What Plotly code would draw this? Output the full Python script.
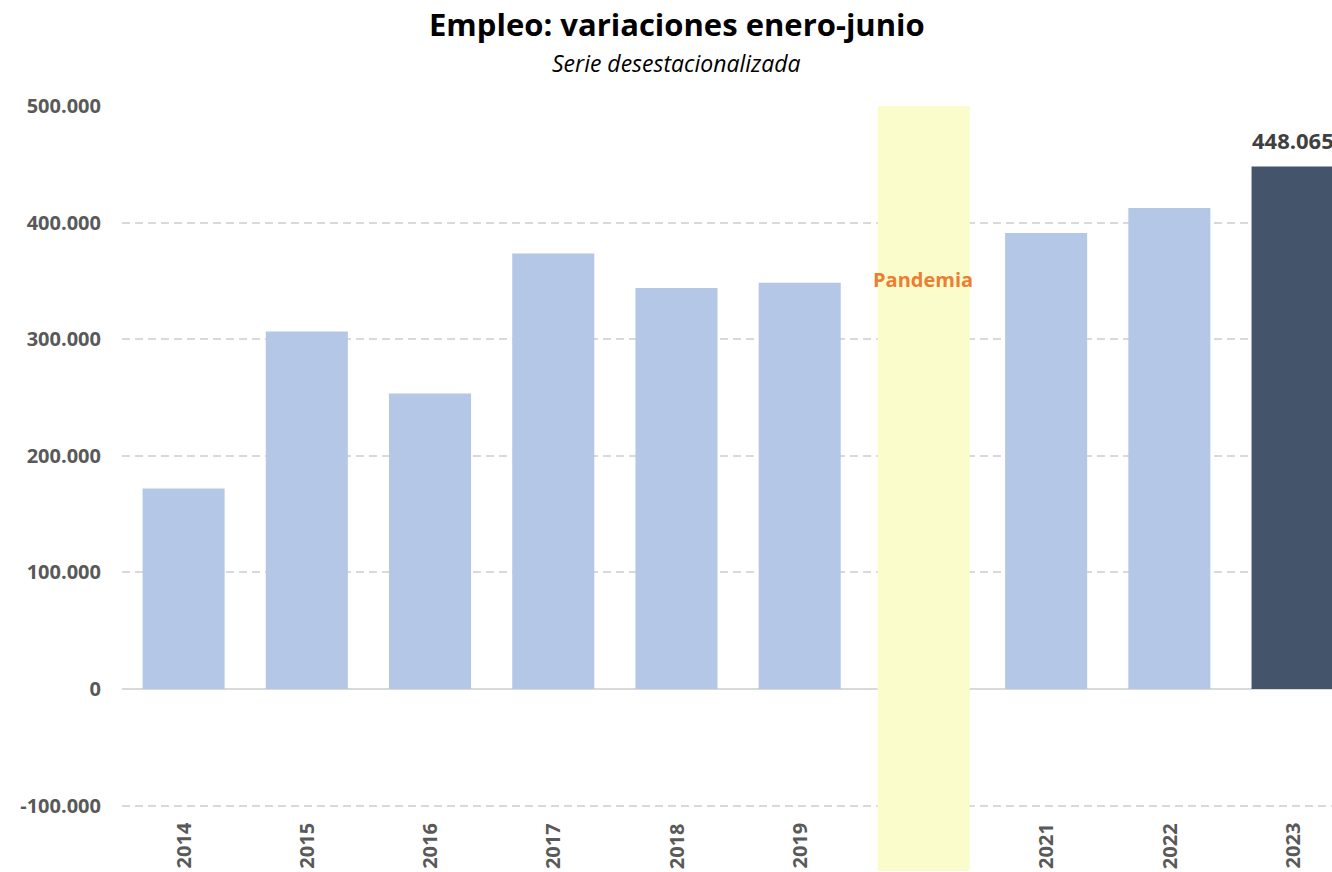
import plotly.graph_objects as go

years = ["2014", "2015", "2016", "2017", "2018", "2019", "2020", "2021", "2022", "2023"]
values = [172000, 306500, 253500, 373500, 344000, 348500, None, 391000, 412500, 448065]
bar_colors = ["#B4C7E7"] * 9 + ["#44546A"]
ytick_vals = [-100000, 0, 100000, 200000, 300000, 400000, 500000]
ytick_text = ["-100.000", "0", "100.000", "200.000", "300.000", "400.000", "500.000"]
highlight_label = "448.065"

FONT = "Open Sans"
GRAY = "#595959"

fig = go.Figure()
fig.add_trace(go.Bar(
    x=years, y=values, marker=dict(color=bar_colors, line=dict(width=0)),
    hoverinfo="skip", showlegend=False,
))

# Pandemic band
fig.add_shape(type="rect", xref="x", yref="y", x0=5.633, x1=6.38, y0=-156000, y1=500000,
              fillcolor="#FBFCCC", line=dict(width=0), layer="above")

annotations = []
for i, yr in enumerate(years):
    if yr == "2020":
        continue
    annotations.append(dict(x=i, y=-134500, xref="x", yref="y", text="<b>%s</b>" % yr, textangle=-90,
                            showarrow=False, font=dict(family=FONT, size=20, color=GRAY),
                            xanchor="center", yanchor="middle"))
annotations.append(dict(x=years.index("2020"), y=351600, xref="x", yref="y", text="<b>Pandemia</b>",
                        showarrow=False, font=dict(family=FONT, size=20, color="#ED7D31"),
                        xanchor="center", yanchor="middle"))
annotations.append(dict(x=len(years) - 1, y=values[-1], xref="x", yref="y",
                        text="<b>%s</b>" % highlight_label, xanchor="center", yanchor="middle",
                        showarrow=False, yshift=27, font=dict(family=FONT, size=22, color="#404040")))
annotations.append(dict(x=0.4585, y=1 + (106 - 24) / 766, xref="paper", yref="paper",
                        xanchor="center", yanchor="middle",
                        text="<b>Empleo: variaciones enero-junio</b>", showarrow=False,
                        font=dict(family=FONT, size=31, color="#000000")))
annotations.append(dict(x=0.4585, y=1 + (106 - 63) / 766, xref="paper", yref="paper",
                        xanchor="center", yanchor="middle",
                        text="<i>Serie desestacionalizada</i>", showarrow=False,
                        font=dict(family=FONT, size=23, color="#000000")))

fig.update_layout(
    width=1332, height=872, autosize=False,
    margin=dict(l=122, r=0, t=106, b=0),
    paper_bgcolor="white", plot_bgcolor="white",
    bargap=0.334,
    annotations=annotations,
    xaxis=dict(type="category", range=[-0.5, 9.32], showticklabels=False, showgrid=False,
               zeroline=False, showline=False, ticks=""),
    yaxis=dict(range=[-156950, 500000], tickvals=ytick_vals, ticktext=["<b>%s</b>" % t for t in ytick_text],
               tickfont=dict(family=FONT, size=20, color=GRAY), showgrid=True,
               gridcolor="#D9D9D9", griddash="8px,5px", gridwidth=1.5,
               zeroline=True, zerolinecolor="#D9D9D9", zerolinewidth=1.5,
               showline=False, ticks="", ticklabelstandoff=20),
)

fig.write_html("out.html", config={"displayModeBar": False},
               post_script="document.body.style.margin='0';document.body.style.overflow='hidden';")
